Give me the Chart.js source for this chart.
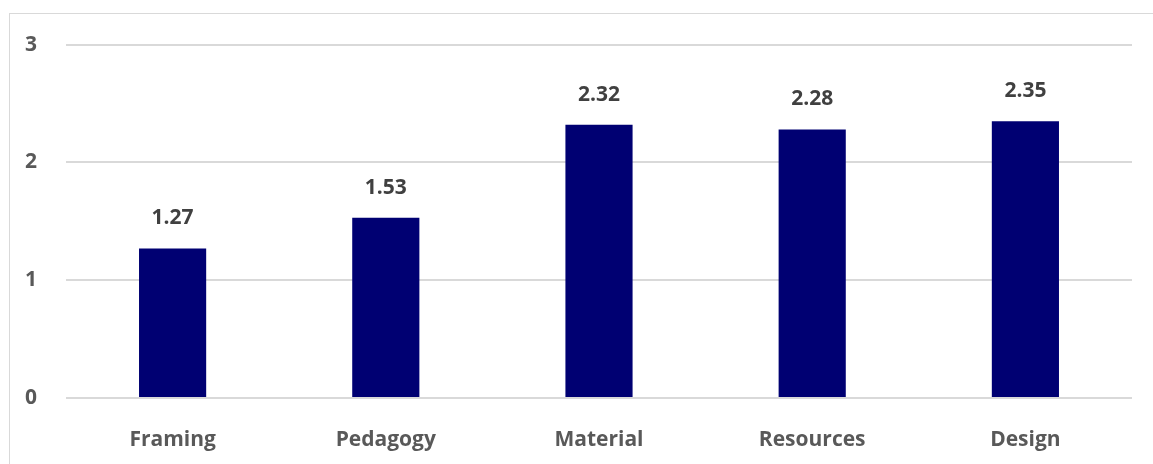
<!DOCTYPE html>
<html>
<head>
<meta charset="utf-8">
<script src="https://cdn.jsdelivr.net/npm/chart.js@4.4.0/dist/chart.umd.min.js"></script>
<style>
  html, body { margin: 0; padding: 0; background: #fff; }
  body { width: 1153px; height: 464px; position: relative; overflow: hidden; }
  .frame { position: absolute; left: 9px; top: 13px; width: 1160px; height: 470px; border: 1px solid #d9d9d9; box-sizing: border-box; }
  .wrap { position: absolute; left: 10px; top: 3px; width: 1143px; height: 461px; }
</style>
</head>
<body>
<div class="frame"></div>
<div class="wrap"><canvas id="barChart"></canvas></div>
<script>
const categories = ['Framing', 'Pedagogy', 'Material', 'Resources', 'Design'];
const scores = [1.27, 1.53, 2.32, 2.28, 2.35];
const yTicks = [0, 1, 2, 3];

const fontFamily = '"Open Sans", sans-serif';

// etiquetas de valor encima de cada barra
const valueLabels = {
    id: 'valueLabels',
    afterDatasetsDraw(chart) {
        const ctx = chart.ctx;
        const meta = chart.getDatasetMeta(0);
        ctx.save();
        ctx.font = 'bold 21px ' + fontFamily;
        ctx.fillStyle = '#404040';
        ctx.textAlign = 'center';
        ctx.textBaseline = 'middle';
        meta.data.forEach((bar, i) => {
            ctx.fillText(scores[i].toFixed(2), bar.x, bar.y - 30);
        });
        ctx.restore();
    }
};

const ctx = document.getElementById('barChart').getContext('2d');
new Chart(ctx, {
    type: 'bar',
    data: {
        labels: categories,
        datasets: [{
            label: 'Score',
            data: scores,
            backgroundColor: '#000072',
            barPercentage: 0.315,
            categoryPercentage: 1
        }]
    },
    options: {
        responsive: true,
        maintainAspectRatio: false,
        animation: false,
        layout: { padding: { top: 19, right: 21, left: 0, bottom: 0 } },
        plugins: {
            legend: { display: false },
            tooltip: { enabled: false }
        },
        scales: {
            x: {
                grid: { display: false },
                border: { display: false },
                ticks: {
                    color: '#595959',
                    font: { family: fontFamily, size: 21, weight: 'bold' },
                    padding: 21
                },
                afterFit(scale) { scale.height = 66; }
            },
            y: {
                min: 0,
                max: 3,
                afterBuildTicks(scale) { scale.ticks = yTicks.map(v => ({ value: v })); },
                grid: { color: '#d9d9d9', lineWidth: 2, drawTicks: false },
                border: { display: false },
                ticks: {
                    color: '#595959',
                    font: { family: fontFamily, size: 21, weight: 'bold' },
                    padding: 29
                },
                afterFit(scale) { scale.width = 56; }
            }
        }
    },
    plugins: [valueLabels]
});
</script>
</body>
</html>
